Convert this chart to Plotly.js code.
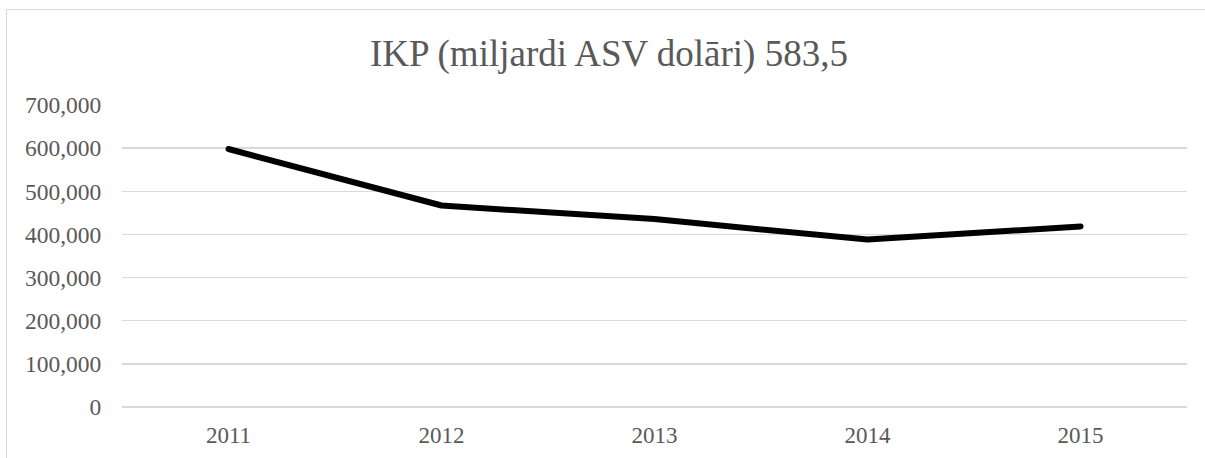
<!DOCTYPE html>
<html>
<head>
<meta charset="utf-8">
<script src="https://cdn.plot.ly/plotly-3.0.1.min.js"></script>
<style>
html,body{margin:0;padding:0;background:#fff;overflow:hidden;width:1205px;height:458px;}
#wrap{position:relative;width:1205px;height:458px;overflow:hidden;}
#chart{position:absolute;left:0;top:0;width:1205px;height:458px;}
#frame{position:absolute;left:6px;top:9px;width:1400px;height:700px;border:1px solid #d9d9d9;box-sizing:border-box;pointer-events:none;}
</style>
</head>
<body>
<div id="wrap">
<div id="chart"></div>
<div id="frame"></div>
</div>
<script>
const years = ["2011", "2012", "2013", "2014", "2015"];
const gdpValues = [598000, 467000, 435500, 388000, 418500];
const yTickVals = [0, 100000, 200000, 300000, 400000, 500000, 600000, 700000];
const yTickText = ["0", "100,000", "200,000", "300,000", "400,000", "500,000", "600,000", "700,000"];
const chartTitle = "IKP (miljardi ASV dolāri) 583,5";

const fontFamily = "Times New Roman, Liberation Serif, DejaVu Serif, serif";
const grey = '#595959';

const trace = {
  x: years,
  y: gdpValues,
  type: 'scatter',
  mode: 'lines',
  line: {color: '#000000', width: 6},
  hoverinfo: 'x+y'
};

const layout = {
  width: 1205,
  height: 458,
  margin: {l: 122, r: 18, t: 105, b: 51, pad: 0},
  paper_bgcolor: 'rgba(0,0,0,0)',
  plot_bgcolor: 'rgba(0,0,0,0)',
  showlegend: false,
  font: {family: fontFamily, color: grey},
  title: {
    text: chartTitle,
    font: {family: fontFamily, size: 37, color: grey},
    x: 609 / 1205,
    xanchor: 'center',
    xref: 'container',
    yref: 'container',
    y: 1 - 53/458,
    yanchor: 'middle'
  },
  xaxis: {
    type: 'category',
    range: [-0.5, 4.5],
    showgrid: false,
    zeroline: false,
    showline: false,
    ticks: '',
    ticklabelstandoff: 12,
    tickfont: {family: fontFamily, size: 23, color: grey},
    fixedrange: true
  },
  yaxis: {
    range: [0, 700000],
    tickvals: yTickVals,
    ticktext: yTickText,
    showgrid: true,
    gridcolor: '#d9d9d9',
    gridwidth: 1.3,
    zeroline: true,
    zerolinecolor: '#d9d9d9',
    zerolinewidth: 1.3,
    showline: false,
    ticks: 'outside',
    ticklen: 15,
    tickcolor: 'rgba(0,0,0,0)',
    tickfont: {family: fontFamily, size: 23.5, color: grey},
    fixedrange: true
  }
};

Plotly.newPlot('chart', [trace], layout, {displayModeBar: false, staticPlot: true}).then(function () {
  document.querySelectorAll('#chart path.js-line').forEach(function (p) {
    p.style.strokeLinecap = 'round';
    p.style.strokeLinejoin = 'round';
  });
});
</script>
</body>
</html>
